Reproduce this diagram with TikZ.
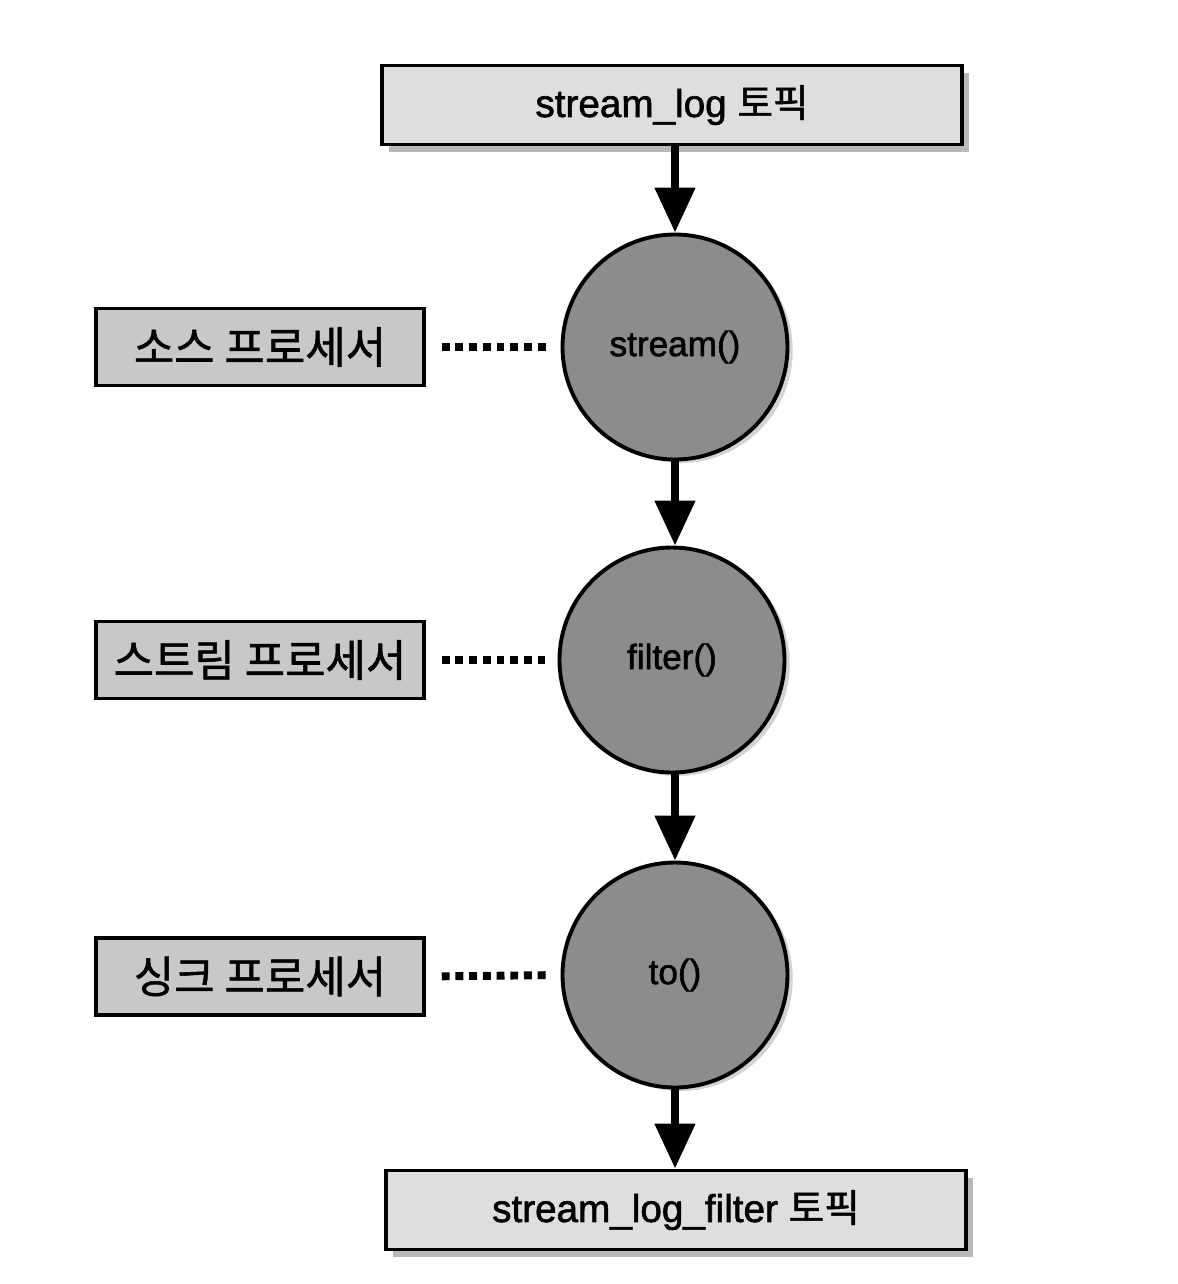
\documentclass[tikz,border=0pt]{standalone}
\usepackage{fontspec}
\setmainfont{Liberation Sans}
\newfontfamily\halb{Liberation Sans}[FakeBold=1.6]
\newfontfamily\kr{Noto Sans CJK KR}[FakeBold=1.2]
\usetikzlibrary{arrows.meta,shadows}
\definecolor{topicGrau}{RGB}{222,222,222}
\definecolor{procGrau}{RGB}{200,200,200}
\definecolor{kreisGrau}{RGB}{140,140,140}
\tikzstyle{topic} = [draw=black,line width=2.2pt,fill=topicGrau,minimum width=11.6cm,minimum height=1.58cm,inner sep=0pt,font=\halb\fontsize{22pt}{26pt}\selectfont,drop shadow={opacity=0.55,shadow xshift=4pt,shadow yshift=-4pt}]
\tikzstyle{proc} = [draw=black,line width=2pt,fill=procGrau,minimum width=6.56cm,minimum height=1.54cm,inner sep=0pt,font=\kr\fontsize{25pt}{30pt}\selectfont]
\tikzstyle{kreis} = [circle,draw=black,line width=2.2pt,fill=kreisGrau,minimum size=4.5cm,inner sep=0pt,font=\halb\fontsize{20pt}{24pt}\selectfont,drop shadow={opacity=0.35,shadow xshift=3pt,shadow yshift=-2pt}]
\tikzstyle{fluss} = [line width=4.5pt,-{Triangle[width=0.78cm,length=0.9cm]}]
\tikzstyle{punkte} = [line width=4.5pt,dash pattern=on 4.5pt off 3.3pt,shorten <=0.32cm,shorten >=0.25cm]

\begin{document}
\begin{tikzpicture}
\useasboundingbox (0,0) rectangle (23.56,-25.68);
% topics
\node[topic] (quelltopic) at (13.44,-2.10) {stream\_log {\kr 토픽}};
\node[topic] (zieltopic) at (13.52,-24.20) {stream\_log\_filter {\kr 토픽}};
% processors
\node[kreis] (stream) at (13.5,-6.94) {stream()};
\node[kreis] (filter) at (13.44,-13.20) {filter()};
\node[kreis] (to) at (13.5,-19.50) {to()};
% labels
\node[proc] (quelle) at (5.2,-6.94) {소스 프로세서};
\node[proc] (strom) at (5.2,-13.20) {스트림 프로세서};
\node[proc] (senke) at (5.2,-19.53) {싱크 프로세서};
\draw[punkte] (quelle.east) -- (stream.west);
\draw[punkte] (strom.east) -- (filter.west);
\draw[punkte] (senke.east) -- (to.west);
% flow
\draw[fluss] (quelltopic.south -| stream) -- (stream.north);
\draw[fluss] (stream.south) -- (stream.south |- filter.north);
\draw[fluss] (filter.south -| to) -- (to.north);
\draw[fluss] (to.south) -- (to.south |- zieltopic.north);
\end{tikzpicture}
\end{document}
